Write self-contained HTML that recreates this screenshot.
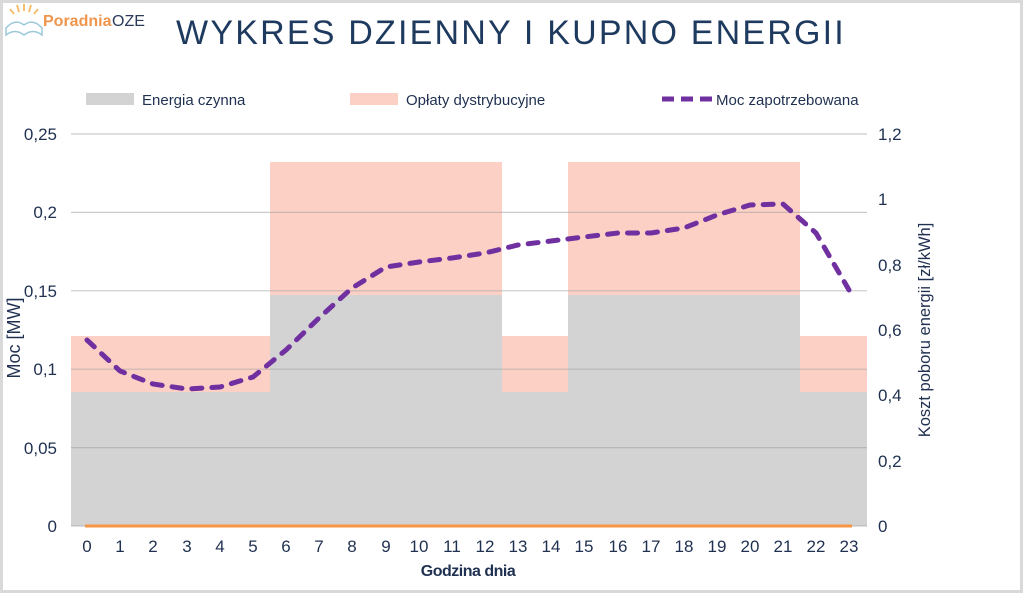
<!DOCTYPE html>
<html><head><meta charset="utf-8"><style>
html,body{margin:0;padding:0;background:#fff}
svg{display:block}
text{font-family:"Liberation Sans",sans-serif;fill:#1f3050}
</style></head><body>
<svg width="1024" height="594" viewBox="0 0 1024 594" xmlns="http://www.w3.org/2000/svg">
<rect x="1.5" y="1.5" width="1020" height="590" fill="#fff" stroke="#d9d9d9" stroke-width="3"/>
<!-- logo -->
<g stroke="#f4b860" stroke-width="1.8">
<line x1="10" y1="9" x2="14" y2="14"/><line x1="17" y1="5" x2="19" y2="12"/><line x1="24" y1="4" x2="24" y2="11"/><line x1="31" y1="5" x2="29" y2="12"/><line x1="38" y1="9" x2="34" y2="14"/>
</g>
<path d="M6 28 Q15 18 24 25 Q33 18 42 28 L42 35 Q33 28 24 35 Q15 28 6 35 Z" fill="none" stroke="#9cc9dc" stroke-width="1.5"/>
<text x="43" y="26" font-size="16" font-weight="bold" style="fill:#f0954c">Poradnia</text>
<text x="112" y="26" font-size="16" style="fill:#2b3a5c">OZE</text>
<text x="511" y="44" font-size="34" text-anchor="middle" letter-spacing="2.2" style="fill:#1f3a5f">WYKRES DZIENNY I KUPNO ENERGII</text>
<!-- legend -->
<rect x="86" y="93" width="48" height="12" fill="#d3d3d3"/>
<text x="142" y="105" font-size="15">Energia czynna</text>
<rect x="350" y="93" width="48" height="12" fill="#fdd0c6"/>
<text x="406" y="105" font-size="15">Opłaty dystrybucyjne</text>
<line x1="662" y1="99" x2="712" y2="99" stroke="#7030a0" stroke-width="5" stroke-dasharray="12,7"/>
<text x="716" y="105" font-size="15">Moc zapotrzebowana</text>
<!-- bars -->
<g>
<rect x="71" y="336" width="199" height="56" fill="#fdd0c6"/><rect x="71" y="392" width="199" height="134" fill="#d3d3d3"/>
<rect x="270" y="162" width="232" height="133" fill="#fdd0c6"/><rect x="270" y="295" width="232" height="231" fill="#d3d3d3"/>
<rect x="502" y="336" width="66" height="56" fill="#fdd0c6"/><rect x="502" y="392" width="66" height="134" fill="#d3d3d3"/>
<rect x="568" y="162" width="232" height="133" fill="#fdd0c6"/><rect x="568" y="295" width="232" height="231" fill="#d3d3d3"/>
<rect x="800" y="336" width="67" height="56" fill="#fdd0c6"/><rect x="800" y="392" width="67" height="134" fill="#d3d3d3"/>
</g>
<g stroke="#a0a0a0" stroke-opacity="0.55" stroke-width="1.2">
<line x1="71" y1="134" x2="867" y2="134"/><line x1="71" y1="212.4" x2="867" y2="212.4"/><line x1="71" y1="290.8" x2="867" y2="290.8"/><line x1="71" y1="369.2" x2="867" y2="369.2"/><line x1="71" y1="447.6" x2="867" y2="447.6"/><line x1="71" y1="526" x2="867" y2="526"/>
</g>
<line x1="85" y1="526" x2="852" y2="526" stroke="#f79646" stroke-width="3"/>
<polyline fill="none" stroke="#7030a0" stroke-width="5" stroke-linecap="round" stroke-dasharray="10,10" points="87,340 120,371 153,384 187,389 220,387 253,377 286,350 319,318 352,288 386,267 419,262 452,258 485,253 518,245 551,241 584,237 618,233 651,233 684,228 717,215 750,205 783,204 816,233 849,290"/>
<!-- left axis -->
<g font-size="17" text-anchor="end">
<text x="57" y="140">0,25</text><text x="57" y="218">0,2</text><text x="57" y="297">0,15</text><text x="57" y="375">0,1</text><text x="57" y="454">0,05</text><text x="57" y="532">0</text>
</g>
<g font-size="17">
<text x="878" y="140">1,2</text><text x="878" y="205">1</text><text x="878" y="271">0,8</text><text x="878" y="336">0,6</text><text x="878" y="401">0,4</text><text x="878" y="467">0,2</text><text x="878" y="532">0</text>
</g>
<text transform="translate(20,338) rotate(-90)" font-size="18" text-anchor="middle">Moc [MW]</text>
<text transform="translate(930,330) rotate(-90)" font-size="16.5" text-anchor="middle">Koszt poboru energii [zł/kWh]</text>
<g font-size="17" text-anchor="middle">
<text x="87" y="552">0</text><text x="120" y="552">1</text><text x="153" y="552">2</text><text x="187" y="552">3</text><text x="220" y="552">4</text><text x="253" y="552">5</text><text x="286" y="552">6</text><text x="319" y="552">7</text><text x="352" y="552">8</text><text x="386" y="552">9</text><text x="419" y="552">10</text><text x="452" y="552">11</text><text x="485" y="552">12</text><text x="518" y="552">13</text><text x="551" y="552">14</text><text x="584" y="552">15</text><text x="618" y="552">16</text><text x="651" y="552">17</text><text x="684" y="552">18</text><text x="717" y="552">19</text><text x="750" y="552">20</text><text x="783" y="552">21</text><text x="816" y="552">22</text><text x="849" y="552">23</text>
</g>
<text x="468" y="576" font-size="16" font-weight="bold" text-anchor="middle" letter-spacing="-0.5">Godzina dnia</text>
</svg>
</body></html>
